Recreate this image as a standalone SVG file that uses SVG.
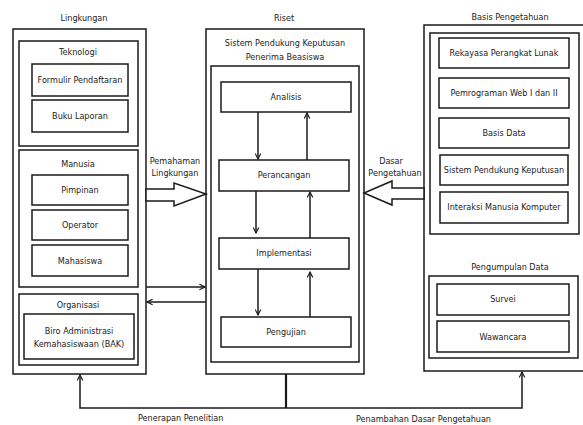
<svg xmlns="http://www.w3.org/2000/svg" width="583" height="425" viewBox="0 0 583 425">
  <style>
    text { font-family: "DejaVu Sans Condensed", "DejaVu Sans", sans-serif; font-size: 9px; fill: #222; text-anchor: middle; }
    .box { fill: #fff; stroke: #1a1a1a; stroke-width: 1.5; }
    .conn { fill: none; stroke: #1a1a1a; stroke-width: 1.5; }
    .block { fill: #fff; stroke: #1a1a1a; stroke-width: 1.5; stroke-linejoin: miter; }
  </style>
  <defs>
    <marker id="open" viewBox="0 0 10 10" refX="9" refY="5" markerWidth="7" markerHeight="7" orient="auto-start-reverse" markerUnits="userSpaceOnUse">
      <path d="M1,1 L9,5 L1,9" fill="none" stroke="#1a1a1a" stroke-width="1.6"/>
    </marker>
  </defs>
  <rect width="583" height="425" fill="#fff"/>

  <!-- Lingkungan -->
  <g id="lingkungan">
    <text x="84" y="21">Lingkungan</text>
    <rect class="box" x="13" y="29" width="133" height="345"/>
  </g>
  <g id="teknologi">
    <rect class="box" x="19" y="41" width="119" height="105"/>
    <text x="78" y="55">Teknologi</text>
  </g>
  <g id="formulir">
    <rect class="box" x="32" y="64" width="96" height="32"/>
    <text x="80" y="83">Formulir Pendaftaran</text>
  </g>
  <g id="buku">
    <rect class="box" x="32" y="100" width="96" height="32"/>
    <text x="80" y="119">Buku Laporan</text>
  </g>
  <g id="manusia">
    <rect class="box" x="19" y="150" width="119" height="137"/>
    <text x="78" y="167">Manusia</text>
  </g>
  <g id="pimpinan">
    <rect class="box" x="32" y="175" width="96" height="30"/>
    <text x="80" y="193">Pimpinan</text>
  </g>
  <g id="operator">
    <rect class="box" x="32" y="210" width="96" height="30"/>
    <text x="80" y="228">Operator</text>
  </g>
  <g id="mahasiswa">
    <rect class="box" x="32" y="245" width="96" height="31"/>
    <text x="80" y="264">Mahasiswa</text>
  </g>
  <g id="organisasi">
    <rect class="box" x="19" y="294" width="119" height="71"/>
    <text x="78" y="308">Organisasi</text>
  </g>
  <g id="bak">
    <rect class="box" x="24" y="314" width="110" height="45"/>
    <text x="79" y="334">Biro Administrasi</text>
    <text x="79" y="347">Kemahasiswaan (BAK)</text>
  </g>

  <!-- Riset -->
  <g id="riset">
    <text x="284" y="21">Riset</text>
    <rect class="box" x="206" y="29" width="158" height="345"/>
    <text x="285" y="46">Sistem Pendukung Keputusan</text>
    <text x="285" y="60">Penerima Beasiswa</text>
  </g>
  <g id="spk">
    <rect class="box" x="211" y="66" width="148" height="296"/>
  </g>
  <g id="analisis">
    <rect class="box" x="221" y="82" width="130" height="30"/>
    <text x="286" y="100">Analisis</text>
  </g>
  <g id="perancangan">
    <rect class="box" x="219" y="160" width="130" height="31"/>
    <text x="284" y="178">Perancangan</text>
  </g>
  <g id="implementasi">
    <rect class="box" x="219" y="238" width="130" height="31"/>
    <text x="284" y="256">Implementasi</text>
  </g>
  <g id="pengujian">
    <rect class="box" x="221" y="317" width="130" height="30"/>
    <text x="286" y="335">Pengujian</text>
  </g>

  <!-- Basis Pengetahuan -->
  <g id="basis-pengetahuan">
    <text x="510" y="20">Basis Pengetahuan</text>
    <rect class="box" x="424" y="25" width="172" height="346"/>
  </g>
  <g id="mata-kuliah">
    <rect class="box" x="430" y="33" width="149" height="201"/>
  </g>
  <g id="rpl">
    <rect class="box" x="439" y="38" width="130" height="30"/>
    <text x="504" y="56">Rekayasa Perangkat Lunak</text>
  </g>
  <g id="web">
    <rect class="box" x="439" y="78" width="130" height="30"/>
    <text x="504" y="96">Pemrograman Web I dan II</text>
  </g>
  <g id="basis-data">
    <rect class="box" x="439" y="118" width="130" height="30"/>
    <text x="504" y="136">Basis Data</text>
  </g>
  <g id="sistem-pendukung">
    <rect class="box" x="440" y="155" width="128" height="30"/>
    <text x="504" y="173">Sistem Pendukung Keputusan</text>
  </g>
  <g id="imk">
    <rect class="box" x="440" y="192" width="128" height="31"/>
    <text x="504" y="210">Interaksi Manusia Komputer</text>
  </g>
  <g id="pengumpulan-data">
    <text x="510" y="270">Pengumpulan Data</text>
    <rect class="box" x="429" y="276" width="149" height="82"/>
  </g>
  <g id="survei">
    <rect class="box" x="437" y="284" width="132" height="31"/>
    <text x="503" y="302">Survei</text>
  </g>
  <g id="wawancara">
    <rect class="box" x="437" y="321" width="132" height="31"/>
    <text x="503" y="340">Wawancara</text>
  </g>

  <!-- Connectors -->
  <g id="connectors">
    <!-- hollow block arrows -->
    <polygon class="block" points="146,189 174,189 174,183 206,194 174,206 174,201 146,201"/>
    <text x="175" y="164">Pemahaman</text>
    <text x="175" y="176">Lingkungan</text>
    <polygon class="block" points="424,188 392,188 392,181 364,193 392,205 392,199 424,199"/>
    <text x="391" y="164">Dasar</text>
    <text x="395" y="176">Pengetahuan</text>

    <!-- between Lingkungan and Riset -->
    <line class="conn" x1="146" y1="287" x2="205" y2="287" marker-end="url(#open)"/>
    <line class="conn" x1="206" y1="302" x2="147" y2="302" marker-end="url(#open)"/>

    <!-- research cycle -->
    <line class="conn" x1="258" y1="112" x2="258" y2="159" marker-end="url(#open)"/>
    <line class="conn" x1="307" y1="160" x2="307" y2="113" marker-end="url(#open)"/>
    <line class="conn" x1="256" y1="191" x2="256" y2="233" marker-end="url(#open)"/>
    <line class="conn" x1="310" y1="238" x2="310" y2="192" marker-end="url(#open)"/>
    <line class="conn" x1="258" y1="269" x2="258" y2="315" marker-end="url(#open)"/>
    <line class="conn" x1="310" y1="317" x2="310" y2="272" marker-end="url(#open)"/>

    <!-- feedback from Riset -->
    <line x1="286" y1="374" x2="286" y2="408" stroke="#1a1a1a" stroke-width="2.2"/>
    <path class="conn" d="M286,408 H80 V375" marker-end="url(#open)"/>
    <path class="conn" d="M286,408 H522 V372" marker-end="url(#open)"/>
    <text x="138" y="421" style="text-anchor:start">Penerapan Penelitian</text>
    <text x="356" y="422" style="text-anchor:start">Penambahan Dasar Pengetahuan</text>
  </g>
</svg>
